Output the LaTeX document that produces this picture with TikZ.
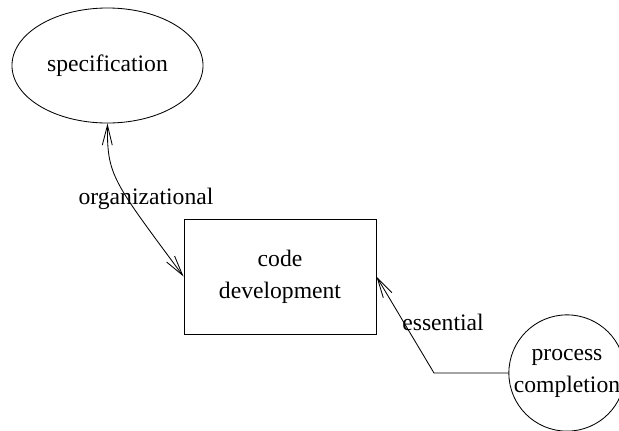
\documentclass[tikz,border=0pt]{standalone}
\usepackage{fontspec}
\setmainfont{Liberation Serif}
\usepackage{tikz}
\usetikzlibrary{positioning,arrows.meta,shapes.geometric}
\tikzset{>={Straight Barb[length=5mm,width=2.5mm]}}

\begin{document}
\begin{tikzpicture}[x=0.025cm,y=-0.025cm,line width=0.6pt,
  font=\fontsize{16.8}{22.8}\selectfont,
  box/.style={draw,inner sep=0pt,align=center}]
\clip (0,0) rectangle (619,430);
\node[box,ellipse,minimum width=4.775cm,minimum height=2.875cm] (spec) at (107.5,65.5) {specification};
\node[box,rectangle,minimum width=4.8cm,minimum height=2.875cm] (dev) at (280,276.5) {code\\development};
\node[box,circle,minimum size=2.85cm] (done) at (567,373) {process\\completion};
\coordinate (bend) at (434,373);
\draw[<->] (spec.south) .. controls (107,175) and (112,180) .. (dev.west);
\draw[->] (done.west) -- (bend) -- (dev.east);
\node (org) at (146,199) {organizational};
\node (ess) at (443,322) {essential};
\end{tikzpicture}
\end{document}
